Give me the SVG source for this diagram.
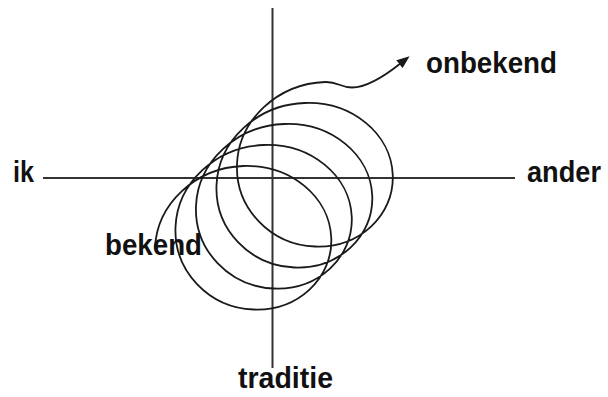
<svg xmlns="http://www.w3.org/2000/svg" width="608" height="397" viewBox="0 0 608 397">
<style>
.lbl{font-family:"Liberation Sans",Arial,sans-serif;font-weight:bold;font-size:29px;fill:#111}
.axis{stroke:#333;stroke-width:2;fill:none}
.coil{stroke:#1a1a1a;stroke-width:1.8;fill:none;stroke-linecap:round}
</style>
<defs>
<marker id="ah" viewBox="0 0 13 10" refX="2" refY="5" markerWidth="13" markerHeight="10" markerUnits="userSpaceOnUse" orient="auto">
<path d="M0,0 L13,5 L0,10 z" fill="#1a1a1a"/>
</marker>
</defs>
<rect width="608" height="397" fill="#fff"/>
<g id="connectors">
<line id="axis-h" class="axis" x1="43" y1="178" x2="515" y2="178"/>
<line id="axis-v" class="axis" x1="272.5" y1="8" x2="272.5" y2="368"/>
<path id="spiral" class="coil" marker-end="url(#ah)" d="M155,248.25
C156.71,203.97 195.58,167.75 243.125,166
C290.68,164.25 329.54,196.97 331.25,237.75
C332.96,278.53 297.51,311.25 253.375,309.5
C209.25,307.75 173.79,271.53 175.5,227.25
C177.21,182.97 216.08,146.75 263.625,145
C311.18,143.25 350.04,175.97 351.75,216.75
C353.46,257.53 318.01,290.25 273.875,288.5
C229.75,286.75 194.29,250.53 196,206.25
C197.71,161.97 236.58,125.75 284.125,124
C331.68,122.25 370.54,154.97 372.25,195.75
C373.96,236.53 338.51,269.25 294.375,267.5
C250.25,265.75 214.79,229.53 216.5,185.25
C218.21,140.97 257.08,104.75 304.625,103
C352.18,101.25 391.04,133.97 392.75,174.75
C394.46,215.53 359.01,248.25 314.875,246.5
C270.75,244.75 235.29,208.53 237,164.25
C238.71,119.97 277.58,83.75 325.125,82
C338,81.5 340,87.5 352,87.5
C366,87.5 386,75 401,63"/>
</g>
<g id="node-ik"><text class="lbl" x="13" y="182" textLength="21" lengthAdjust="spacingAndGlyphs">ik</text></g>
<g id="node-ander"><text class="lbl" x="527" y="182" textLength="74" lengthAdjust="spacingAndGlyphs">ander</text></g>
<g id="node-onbekend"><text class="lbl" x="426" y="73" textLength="131" lengthAdjust="spacingAndGlyphs">onbekend</text></g>
<g id="node-bekend"><text class="lbl" x="105" y="255" textLength="97" lengthAdjust="spacingAndGlyphs">bekend</text></g>
<g id="node-traditie"><text class="lbl" x="238" y="388" textLength="95" lengthAdjust="spacingAndGlyphs">traditie</text></g>
</svg>
